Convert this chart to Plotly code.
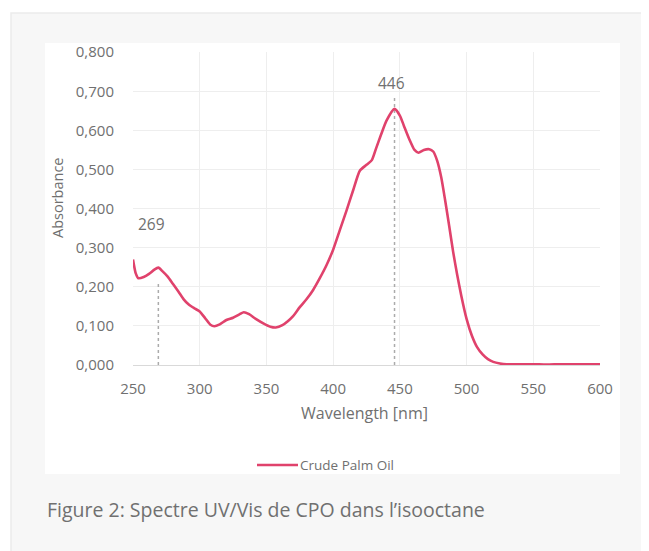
import plotly.graph_objects as go

# ---- data ----
wavelength = [250, 252, 254, 258, 262, 266, 269, 272, 276, 280, 284, 288, 292, 296, 300,
              304, 308, 311, 315, 320, 325, 330, 333, 337, 342, 348, 353, 357, 362, 366,
              370, 375, 380, 385, 390, 395, 400, 405, 410, 415, 420, 425, 429, 432, 436,
              440, 446, 450, 453, 457, 461, 464, 468, 472, 475, 478, 481, 484, 487, 490,
              493, 496, 500, 504, 508, 512, 516, 520, 525, 530, 540, 550, 560, 570, 580,
              590, 600]
absorbance = [0.270, 0.235, 0.222, 0.225, 0.233, 0.244, 0.249, 0.240, 0.226, 0.207, 0.188,
              0.168, 0.154, 0.145, 0.137, 0.120, 0.103, 0.099, 0.104, 0.115, 0.121, 0.130,
              0.135, 0.130, 0.118, 0.106, 0.098, 0.096, 0.102, 0.112, 0.125, 0.148, 0.168,
              0.192, 0.222, 0.255, 0.295, 0.345, 0.395, 0.447, 0.497, 0.512, 0.524, 0.552,
              0.590, 0.625, 0.655, 0.638, 0.612, 0.578, 0.550, 0.543, 0.550, 0.552, 0.546,
              0.522, 0.480, 0.420, 0.355, 0.288, 0.230, 0.178, 0.118, 0.075, 0.045, 0.027,
              0.015, 0.008, 0.004, 0.002, 0.002, 0.002, 0.001, 0.002, 0.002, 0.002, 0.002]
series_name = "Crude Palm Oil"

peak_labels = ["269", "446"]
peak_wl = [269, 446]
peak_line_top = [0.21, 0.685]
peak_label_x = [264, 444]
peak_label_y = [0.36, 0.72]

x_ticks = [250, 300, 350, 400, 450, 500, 550, 600]
y_ticks = [0.0, 0.1, 0.2, 0.3, 0.4, 0.5, 0.6, 0.7, 0.8]

x_title = "Wavelength [nm]"
y_title = "Absorbance"
caption = "Figure 2: Spectre UV/Vis de CPO dans l\u2019isooctane"

# ---- styling ----
W, H = 649, 551
OFF = 8  # page body margin
LINE_COLOR = "#e0426c"
TEXT_COLOR = "#707070"
GRID_COLOR = "#eeeeee"
FONT = "Open Sans"


def px(x):
    return (x - OFF) / W


def py(y):
    return 1 - (y - OFF) / H


fig = go.Figure()

# drop lines at peaks
for wl, top in zip(peak_wl, peak_line_top):
    fig.add_trace(go.Scatter(
        x=[wl, wl], y=[0, top], mode="lines",
        line=dict(color="#ababab", width=1.5, dash="dot"),
        hoverinfo="skip", showlegend=False))

fig.add_trace(go.Scatter(
    x=wavelength, y=absorbance, mode="lines", name=series_name,
    line=dict(color=LINE_COLOR, width=2.6, shape="spline", smoothing=0.6),
    showlegend=False))

for lab, lx, ly in zip(peak_labels, peak_label_x, peak_label_y):
    fig.add_annotation(x=lx, y=ly, xref="x", yref="y", text=lab, showarrow=False,
                       font=dict(family=FONT, size=15.5, color=TEXT_COLOR),
                       xanchor="center", yanchor="middle")

shapes = [
    # grey outer panel
    dict(type="rect", xref="paper", yref="paper", x0=px(11), x1=px(670), y0=py(570), y1=py(13),
         fillcolor="#f7f7f7", line=dict(color="#ebebeb", width=1.5), layer="below"),
    # white chart box
    dict(type="rect", xref="paper", yref="paper", x0=px(45), x1=px(620), y0=py(474), y1=py(43),
         fillcolor="#ffffff", line=dict(width=0), layer="below"),
    # legend sample line
    dict(type="line", xref="paper", yref="paper", x0=px(257), x1=px(298), y0=py(465), y1=py(465),
         line=dict(color=LINE_COLOR, width=2.6), layer="above"),
]

annotations = [
    dict(x=px(298), y=py(465), xref="paper", yref="paper", text=series_name, showarrow=False,
         xanchor="left", yanchor="middle", font=dict(family=FONT, size=13.5, color=TEXT_COLOR)),
    dict(x=px(364), y=py(413), xref="paper", yref="paper", text=x_title, showarrow=False,
         xanchor="center", yanchor="middle", font=dict(family=FONT, size=16, color=TEXT_COLOR)),
    dict(x=px(57), y=py(198), xref="paper", yref="paper", text=y_title, showarrow=False,
         textangle=-90, xanchor="center", yanchor="middle",
         font=dict(family=FONT, size=14.5, color=TEXT_COLOR)),
    dict(x=px(45), y=py(509), xref="paper", yref="paper", text=caption, showarrow=False,
         xanchor="left", yanchor="middle", font=dict(family=FONT, size=19.5, color="#707070")),
]

fig.update_layout(
    width=W, height=H,
    margin=dict(l=0, r=0, t=0, b=0, autoexpand=False),
    paper_bgcolor="#ffffff", plot_bgcolor="rgba(0,0,0,0)",
    separators=", ",
    showlegend=False,
    shapes=shapes,
    font=dict(family=FONT, color=TEXT_COLOR),
    xaxis=dict(domain=[px(133), px(600)], range=[250, 600], tickvals=x_ticks,
               showgrid=True, gridcolor=GRID_COLOR, gridwidth=1, zeroline=False,
               showline=True, linecolor="#d9d9d9", linewidth=1,
               ticks="outside", ticklen=10, tickcolor="rgba(0,0,0,0)",
               tickfont=dict(family=FONT, size=15, color=TEXT_COLOR), automargin=False),
    yaxis=dict(domain=[py(365), py(52.2)], range=[0, 0.8], tickvals=y_ticks,
               tickformat=".3f", showgrid=True, gridcolor=GRID_COLOR, gridwidth=1,
               zeroline=False, showline=False,
               ticks="outside", ticklen=15, tickcolor="rgba(0,0,0,0)",
               tickfont=dict(family=FONT, size=15, color=TEXT_COLOR), automargin=False),
)
for a in annotations:
    fig.add_annotation(**a)

fig.write_html("out.html")
